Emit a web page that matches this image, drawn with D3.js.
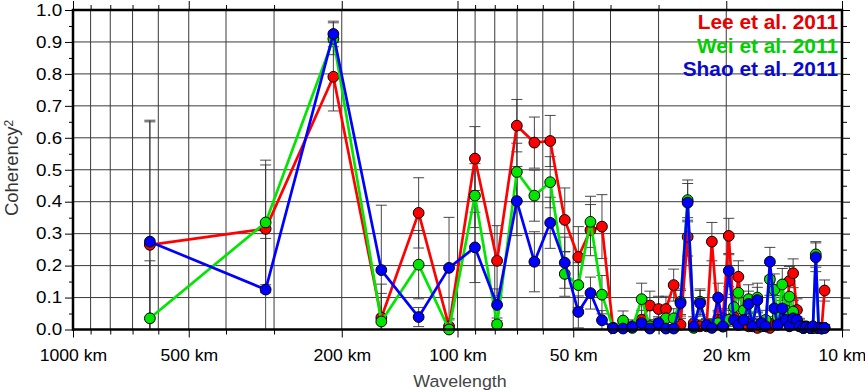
<!DOCTYPE html>
<html>
<head>
<meta charset="utf-8">
<script src="https://cdn.jsdelivr.net/npm/d3@7"></script>
<style>
  body { margin: 0; background: #fff; }
  svg { display: block; font-family: "Liberation Sans", Arial, Helvetica, sans-serif; }
</style>
</head>
<body>
<svg id="chart" width="865" height="392"></svg>
<script>
// wavelength of each coherency estimate (km)
const wavelengths = [631, 315.5, 210.3, 157.8, 126.2, 105.2, 90.1, 78.9, 70.1, 63.1,
  57.4, 52.6, 48.5, 45.1, 42.1, 39.4, 37.1, 35.1, 33.2, 31.6,
  30.0, 28.7, 27.4, 26.3, 25.2, 24.3, 23.4, 22.5, 21.8, 21.0,
  20.4, 19.7, 19.1, 18.6, 18.0, 17.5, 17.1, 16.6, 16.2, 15.8,
  15.4, 15.0, 14.7, 14.3, 14.0, 13.7, 13.4, 13.1, 12.9, 12.6,
  12.4, 12.1, 11.9, 11.7, 11.5, 11.3, 11.1];

const lee = [0.265, 0.315, 0.791, 0.037, 0.365, 0.010, 0.535, 0.215, 0.638, 0.585,
  0.590, 0.343, 0.227, 0.311, 0.322, 0.005, 0.008, 0.010, 0.030, 0.075,
  0.064, 0.064, 0.139, 0.015, 0.290, 0.020, 0.010, 0.012, 0.275, 0.030,
  0.035, 0.293, 0.040, 0.165, 0.020, 0.010, 0.015, 0.005, 0.010, 0.010,
  0.005, 0.020, 0.020, 0.030, 0.030, 0.152, 0.176, 0.061, 0.015, 0.005,
  0.008, 0.005, 0.005, 0.005, 0.005, 0.003, 0.122];
const leeErr = [0.385, 0.200, 0.107, 0.105, 0.110, 0.020, 0.100, 0.110, 0.082, 0.080,
  0.080, 0.100, 0.095, 0.080, 0.100, 0.010, 0.020, 0.020, 0.030, 0.045,
  0.040, 0.040, 0.050, 0.020, 0.060, 0.020, 0.020, 0.020, 0.060, 0.030,
  0.030, 0.055, 0.030, 0.050, 0.020, 0.020, 0.020, 0.010, 0.020, 0.020,
  0.010, 0.020, 0.020, 0.030, 0.030, 0.045, 0.045, 0.035, 0.020, 0.010,
  0.010, 0.010, 0.010, 0.010, 0.010, 0.010, 0.033];

const wei = [0.035, 0.335, 0.910, 0.025, 0.203, 0.000, 0.419, 0.016, 0.493, 0.419,
  0.461, 0.174, 0.139, 0.337, 0.109, 0.005, 0.028, 0.005, 0.095, 0.010,
  0.015, 0.035, 0.035, 0.087, 0.405, 0.005, 0.087, 0.010, 0.010, 0.020,
  0.010, 0.030, 0.070, 0.115, 0.060, 0.095, 0.020, 0.100, 0.010, 0.030,
  0.157, 0.124, 0.040, 0.141, 0.060, 0.103, 0.056, 0.020, 0.010, 0.005,
  0.010, 0.005, 0.005, 0.235, 0.005, 0.005, 0.005];
const weiErr = [0.180, 0.195, 0.050, 0.088, 0.107, 0.000, 0.100, 0.020, 0.090, 0.080,
  0.080, 0.070, 0.070, 0.080, 0.060, 0.010, 0.030, 0.010, 0.050, 0.020,
  0.020, 0.035, 0.030, 0.040, 0.063, 0.010, 0.040, 0.020, 0.020, 0.020,
  0.020, 0.030, 0.040, 0.050, 0.040, 0.045, 0.020, 0.045, 0.020, 0.030,
  0.050, 0.050, 0.030, 0.050, 0.040, 0.045, 0.035, 0.020, 0.020, 0.010,
  0.010, 0.010, 0.010, 0.040, 0.010, 0.010, 0.010];

const shao = [0.275, 0.125, 0.925, 0.186, 0.039, 0.193, 0.257, 0.077, 0.402, 0.212,
  0.334, 0.209, 0.055, 0.114, 0.029, 0.004, 0.003, 0.008, 0.020, 0.003,
  0.020, 0.003, 0.003, 0.082, 0.397, 0.009, 0.082, 0.014, 0.005, 0.100,
  0.009, 0.184, 0.030, 0.014, 0.030, 0.080, 0.010, 0.092, 0.020, 0.010,
  0.212, 0.066, 0.015, 0.066, 0.030, 0.010, 0.035, 0.030, 0.010, 0.005,
  0.008, 0.005, 0.010, 0.226, 0.005, 0.003, 0.005];
const shaoErr = [0.380, 0.160, 0.040, 0.203, 0.030, 0.158, 0.110, 0.050, 0.108, 0.094,
  0.080, 0.080, 0.050, 0.050, 0.030, 0.010, 0.010, 0.010, 0.020, 0.010,
  0.020, 0.010, 0.010, 0.040, 0.060, 0.010, 0.040, 0.020, 0.010, 0.045,
  0.010, 0.050, 0.030, 0.020, 0.030, 0.040, 0.010, 0.040, 0.020, 0.010,
  0.045, 0.040, 0.020, 0.040, 0.030, 0.010, 0.030, 0.030, 0.010, 0.010,
  0.010, 0.010, 0.010, 0.045, 0.010, 0.010, 0.010];

const xMajorTicks = [1000, 500, 200, 100, 50, 20, 10];
const xMinorTicks = [900, 800, 700, 600, 400, 300, 90, 80, 70, 60, 40, 30];
const yTicks = [0, 0.1, 0.2, 0.3, 0.4, 0.5, 0.6, 0.7, 0.8, 0.9, 1.0];
const yMinorTicks = [0.05, 0.15, 0.25, 0.35, 0.45, 0.55, 0.65, 0.75, 0.85, 0.95];

const series = [
  { name: "Lee et al. 2011", values: lee, err: leeErr, color: "#ff0000", label: "#e60000" },
  { name: "Wei et al. 2011", values: wei, err: weiErr, color: "#00e600", label: "#00d000" },
  { name: "Shao et al. 2011", values: shao, err: shaoErr, color: "#0000ff", label: "#0a0acc" }
];

const SIZE = { left: 73, right: 842, top: 10, bottom: 329.5 };
const svg = d3.select("#chart");

const x = d3.scaleLog().domain([1000, 10]).range([SIZE.left, SIZE.right]);
const y = d3.scaleLinear().domain([0, 1]).range([SIZE.bottom, SIZE.top]);

// grid
const grid = svg.append("g").attr("stroke", "#3a3a3a").attr("stroke-width", 1);
grid.selectAll(".gx").data(xMinorTicks.concat([500, 200, 100, 50, 20]))
  .join("line")
  .attr("x1", d => x(d)).attr("x2", d => x(d))
  .attr("y1", SIZE.top).attr("y2", SIZE.bottom);
grid.selectAll(".gy").data(yTicks.slice(1, -1))
  .join("line")
  .attr("x1", SIZE.left).attr("x2", SIZE.right)
  .attr("y1", d => y(d)).attr("y2", d => y(d));

// axes
const tickStyle = g => {
  g.select(".domain").remove();
  g.selectAll(".tick line").attr("stroke", "#000").attr("stroke-width", 1);
};

const xAxisCall = d3.axisBottom(x).tickValues(xMajorTicks)
  .tickFormat(d => d + " km").tickSize(8).tickPadding(12);
const xAxis = svg.append("g").attr("transform", `translate(0,${SIZE.bottom})`)
  .call(xAxisCall).call(tickStyle);
xAxis.selectAll("text")
  .attr("fill", "#000").style("font-size", "16px")
  .attr("transform", "scale(1.1,1)");

svg.append("g").attr("transform", `translate(0,${SIZE.bottom})`)
  .call(d3.axisBottom(x).tickValues(xMinorTicks).tickFormat("").tickSize(5)).call(tickStyle);
svg.append("g").attr("transform", `translate(0,${SIZE.top})`)
  .call(d3.axisTop(x).tickValues(xMajorTicks).tickFormat("").tickSize(9)).call(tickStyle);
svg.append("g").attr("transform", `translate(0,${SIZE.top})`)
  .call(d3.axisTop(x).tickValues(xMinorTicks).tickFormat("").tickSize(5)).call(tickStyle);

const yAxisCall = d3.axisLeft(y).tickValues(yTicks).tickFormat(d3.format(".1f"))
  .tickSize(8).tickPadding(1.5);
const yAxis = svg.append("g").attr("transform", `translate(${SIZE.left},0)`)
  .call(yAxisCall).call(tickStyle);
yAxis.selectAll("text")
  .attr("fill", "#000").style("font-size", "16.5px")
  .attr("transform", "scale(1.14,1)");

svg.append("g").attr("transform", `translate(${SIZE.left},0)`)
  .call(d3.axisLeft(y).tickValues(yMinorTicks).tickFormat("").tickSize(4)).call(tickStyle);
svg.append("g").attr("transform", `translate(${SIZE.right},0)`)
  .call(d3.axisRight(y).tickValues(yTicks).tickFormat("").tickSize(8)).call(tickStyle);
svg.append("g").attr("transform", `translate(${SIZE.right},0)`)
  .call(d3.axisRight(y).tickValues(yMinorTicks).tickFormat("").tickSize(5)).call(tickStyle);

// axis titles
svg.append("text")
  .attr("transform", "translate(460,387) scale(1.08,1)")
  .attr("text-anchor", "middle")
  .attr("fill", "#444")
  .style("font-size", "16.5px")
  .text("Wavelength");

const yTitle = svg.append("text")
  .attr("transform", "translate(18,168) rotate(-90)")
  .attr("text-anchor", "middle")
  .attr("fill", "#333")
  .style("font-size", "18.5px");
yTitle.append("tspan").text("Coherency");
yTitle.append("tspan").attr("dy", "-0.45em").style("font-size", "12px").text("2");

// error bars
const capW = 5.5;
const errG = svg.append("g").attr("stroke", "#333").attr("stroke-width", 0.9).attr("fill", "none");
series.forEach(s => {
  const bars = s.values.map((v, i) => ({
    w: wavelengths[i],
    lo: v - s.err[i],
    hi: v + s.err[i]
  })).filter(d => d.hi - d.lo > 0);

  const g = errG.append("g");
  g.selectAll(".bar").data(bars).join("line")
    .attr("x1", d => x(d.w)).attr("x2", d => x(d.w))
    .attr("y1", d => y(Math.max(0, d.lo))).attr("y2", d => y(Math.min(1, d.hi)));
  g.selectAll(".capHi").data(bars.filter(d => d.hi <= 1)).join("line")
    .attr("x1", d => x(d.w) - capW).attr("x2", d => x(d.w) + capW)
    .attr("y1", d => y(d.hi)).attr("y2", d => y(d.hi));
  g.selectAll(".capLo").data(bars.filter(d => d.lo >= 0)).join("line")
    .attr("x1", d => x(d.w) - capW).attr("x2", d => x(d.w) + capW)
    .attr("y1", d => y(d.lo)).attr("y2", d => y(d.lo));
});

// lines and points
const line = d3.line().x(d => x(d.w)).y(d => y(d.v));
series.forEach(s => {
  const pts = s.values.map((v, i) => ({ w: wavelengths[i], v }));
  svg.append("path")
    .datum(pts)
    .attr("d", line)
    .attr("fill", "none")
    .attr("stroke", s.color)
    .attr("stroke-width", 2.7)
    .attr("stroke-linejoin", "round");
  svg.append("g").selectAll("circle").data(pts).join("circle")
    .attr("cx", d => x(d.w))
    .attr("cy", d => y(d.v))
    .attr("r", 5.4)
    .attr("fill", s.color)
    .attr("stroke", "#000")
    .attr("stroke-width", 1);
});

// frame
svg.append("rect")
  .attr("x", SIZE.left).attr("y", SIZE.top)
  .attr("width", SIZE.right - SIZE.left).attr("height", SIZE.bottom - SIZE.top)
  .attr("fill", "none").attr("stroke", "#000").attr("stroke-width", 2.5);

// legend
const legendY = [29, 52.5, 76];
series.forEach((s, i) => {
  svg.append("text")
    .attr("transform", `translate(838,${legendY[i]}) scale(1.07,1)`)
    .attr("text-anchor", "end")
    .attr("fill", s.label)
    .style("font-size", "19.5px")
    .style("font-weight", "bold")
    .text(s.name);
});
</script>
</body>
</html>
